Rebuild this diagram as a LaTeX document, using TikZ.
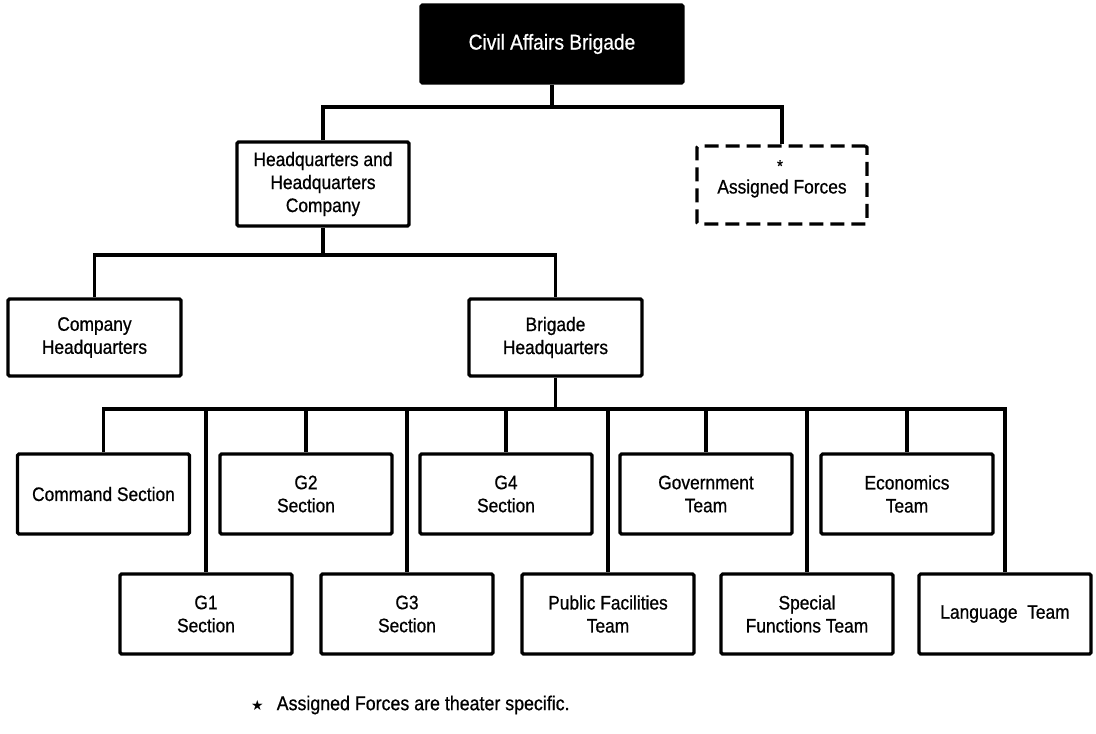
\documentclass[tikz,border=0pt]{standalone}
\usepackage{fontspec}
\setmainfont{Liberation Sans}[FakeStretch=0.89,FakeBold=0.7]
\newfontfamily\symfont{DejaVu Sans}
\begin{document}
\begin{tikzpicture}[x=1pt,y=-1pt,
  box/.style={draw, line width=3.2pt, rounded corners=1.5pt,
    minimum width=172pt, minimum height=80pt, inner sep=0pt,
    align=center, font=\fontsize{19.5}{23}\selectfont},
  headbox/.style={box, fill=black, text=white, minimum width=262pt,
    minimum height=78pt, font=\fontsize{21.5}{25}\selectfont},
  optbox/.style={box, dash pattern=on 14pt off 7pt, minimum width=170pt,
    minimum height=78pt},
  link/.style={line width=3.2pt},
  note/.style={inner sep=0pt, font=\fontsize{20}{23}\selectfont}]
\useasboundingbox[fill=white] (0,0) rectangle (1096,734);

% top level
\node[headbox] (cab) at (552,44) {Civil Affairs Brigade};
\node[box, minimum height=84pt] (hhc) at (323,184) {Headquarters and\\Headquarters\\Company};
\node[optbox] (af) at (782,185) {\\[-2pt]Assigned Forces};
\node[note, font=\fontsize{17}{17}\selectfont] (afstar) at ([shift={(-2,-19)}]af.center) {*};

% headquarters company
\node[box, minimum width=173pt, minimum height=77pt] (chq) at (94.5,337.5) {Company\\Headquarters};
\node[box, minimum width=173pt, minimum height=77pt] (bhq) at (555.5,337.5) {Brigade\\Headquarters};

% sections and teams, upper row
\node[box] (cmd)  at (103.5,494) {Command Section};
\node[box] (g2)   at (306,494) {G2\\Section};
\node[box] (g4)   at (506,494) {G4\\Section};
\node[box] (gov)  at (706,494) {Government\\Team};
\node[box] (econ) at (907,494) {Economics\\Team};

% sections and teams, lower row
\node[box] (g1)   at (206,614) {G1\\Section};
\node[box] (g3)   at (407,614) {G3\\Section};
\node[box] (pf)   at (608,614) {Public Facilities\\Team};
\node[box] (sf)   at (807,614) {Special\\Functions Team};
\node[box] (lang) at (1005,614) {Language~ Team};

% rails of the tree
\coordinate (r1) at (0,107);
\coordinate (r2) at (0,255);
\coordinate (r3) at (0,409);

\draw[link] (cab.south) -- (cab.south |- r1);
\draw[link] (hhc.north) |- (af.north |- r1) -- (af.north);
\draw[link] (hhc.south) -- (hhc.south |- r2);
\draw[link] (chq.north) |- (bhq.north |- r2) -- (bhq.north);
\draw[link] (bhq.south) -- (bhq.south |- r3);
\draw[link] (cmd.north) |- (lang.north |- r3) -- (lang.north);
\foreach \n in {g1,g2,g3,g4,pf,gov,sf,econ}
  \draw[link] (\n.north |- r3) -- (\n.north);

% footnote
\node[note, anchor=west] (fn) at (251,705)
  {{\symfont\fontsize{14}{14}\selectfont ★}\hspace{13pt}Assigned Forces are theater specific.};
\end{tikzpicture}
\end{document}
